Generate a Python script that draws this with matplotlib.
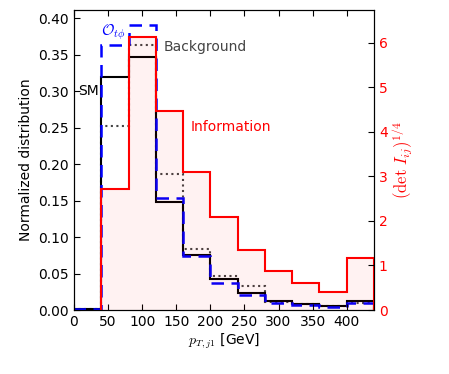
import numpy as np
import matplotlib
matplotlib.use('Agg')
import matplotlib.pyplot as plt

plt.rcParams['mathtext.fontset'] = 'cm'
plt.rcParams['font.size'] = 10

# bin edges in pT [GeV]
edges = [0, 40, 80, 120, 160, 200, 240, 280, 320, 360, 400, 440]
info_edges = edges[1:]

sm = [0.0015, 0.319, 0.346, 0.1475, 0.076, 0.042, 0.0237, 0.0128, 0.0087, 0.006, 0.0123]
otphi = [0.0015, 0.363, 0.391, 0.154, 0.074, 0.0374, 0.020, 0.010, 0.0073, 0.0045, 0.009]
background = [0.001, 0.2525, 0.363, 0.186, 0.083, 0.0466, 0.033, 0.011, 0.008, 0.005, 0.009]
information = [2.72, 6.12, 4.47, 3.10, 2.09, 1.35, 0.885, 0.615, 0.41, 1.16]

fig = plt.figure(figsize=(4.49, 3.74), dpi=100)
ax = fig.add_axes([74/449, 64/374, 300/449, 300/374])

ax.stairs(background, edges, color='#444444', ls=':', lw=1.5)
ax.stairs(sm, edges, color='black', lw=1.5)
ax.stairs(otphi, edges, color='blue', ls=(0, (5, 3)), lw=1.8)

ax.set_xlim(0, 440)
ax.set_ylim(0, 0.411)
ax.set_xticks([0, 50, 100, 150, 200, 250, 300, 350, 400])
ax.set_yticks(np.arange(0, 0.41, 0.05))
ax.tick_params(direction='in', top=True, right=False, length=4)
ax.set_xlabel(r'$p_{T,j1}$ [GeV]', labelpad=2)
ax.set_ylabel('Normalized distribution')

ax.text(37, 0.30, 'SM', ha='right', va='center', color='black')
ax.text(131, 0.360, 'Background', ha='left', va='center', color='#444444')
ax.text(171, 0.251, 'Information', ha='left', va='center', color='red')
ax.text(40, 0.381, r'$\mathcal{O}_{t\phi}$', ha='left', va='center', color='blue', fontsize=11)

ax2 = ax.twinx()
ax2.stairs(information, info_edges, fill=True, color='red', alpha=0.05, lw=0)
ax2.stairs(information, info_edges, color='red', lw=1.5)
ax2.set_ylim(0, 6.73)
ax2.set_yticks([0, 1, 2, 3, 4, 5, 6])
ax2.tick_params(direction='in', colors='black', labelcolor='red', length=4)
ax2.set_ylabel(r'$(\det\,I_{ij})^{1/4}$', color='red', fontsize=12, labelpad=2)

plt.savefig('out.png', dpi=100)
